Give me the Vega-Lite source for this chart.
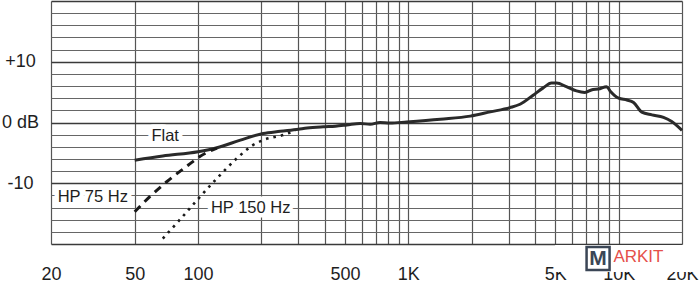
{
  "$schema": "https://vega.github.io/schema/vega-lite/v6.json",
  "width": 631,
  "height": 243,
  "autosize": {"type": "none"},
  "padding": {"left": 51, "top": 1, "right": 18, "bottom": 37},
  "background": "white",
  "config": {"view": {"stroke": null}, "font": "Liberation Sans"},
  "datasets": {
    "curves": [
      {"series": "Flat", "f": 50, "db": -6.2},
      {"series": "Flat", "f": 68, "db": -5.5},
      {"series": "Flat", "f": 100, "db": -4.8},
      {"series": "Flat", "f": 123, "db": -4.15},
      {"series": "Flat", "f": 159, "db": -2.9},
      {"series": "Flat", "f": 204, "db": -1.8},
      {"series": "Flat", "f": 246, "db": -1.45},
      {"series": "Flat", "f": 300, "db": -1.1},
      {"series": "Flat", "f": 330, "db": -0.9},
      {"series": "Flat", "f": 394, "db": -0.7},
      {"series": "Flat", "f": 450, "db": -0.6},
      {"series": "Flat", "f": 510, "db": -0.4},
      {"series": "Flat", "f": 590, "db": -0.15},
      {"series": "Flat", "f": 658, "db": -0.3},
      {"series": "Flat", "f": 733, "db": 0.0},
      {"series": "Flat", "f": 818, "db": -0.1},
      {"series": "Flat", "f": 982, "db": 0.1},
      {"series": "Flat", "f": 1418, "db": 0.55},
      {"series": "Flat", "f": 1970, "db": 1.05},
      {"series": "Flat", "f": 2452, "db": 1.75},
      {"series": "Flat", "f": 3040, "db": 2.45},
      {"series": "Flat", "f": 3396, "db": 3.0},
      {"series": "Flat", "f": 3920, "db": 4.5},
      {"series": "Flat", "f": 4376, "db": 5.7},
      {"series": "Flat", "f": 4792, "db": 6.5},
      {"series": "Flat", "f": 5069, "db": 6.5},
      {"series": "Flat", "f": 5640, "db": 5.9},
      {"series": "Flat", "f": 6300, "db": 5.2},
      {"series": "Flat", "f": 6900, "db": 4.95},
      {"series": "Flat", "f": 7550, "db": 5.45},
      {"series": "Flat", "f": 8000, "db": 5.5},
      {"series": "Flat", "f": 8760, "db": 5.9},
      {"series": "Flat", "f": 9100, "db": 5.2},
      {"series": "Flat", "f": 10000, "db": 4.0},
      {"series": "Flat", "f": 10940, "db": 3.7},
      {"series": "Flat", "f": 11770, "db": 3.3},
      {"series": "Flat", "f": 12880, "db": 1.7},
      {"series": "Flat", "f": 14380, "db": 1.25},
      {"series": "Flat", "f": 16330, "db": 0.85},
      {"series": "Flat", "f": 17870, "db": 0.15},
      {"series": "Flat", "f": 20000, "db": -1.3},
      {"series": "HP 75 Hz", "f": 50, "db": -14.7},
      {"series": "HP 75 Hz", "f": 59, "db": -12.2},
      {"series": "HP 75 Hz", "f": 71, "db": -9.75},
      {"series": "HP 75 Hz", "f": 90, "db": -7.0},
      {"series": "HP 75 Hz", "f": 102, "db": -5.6},
      {"series": "HP 75 Hz", "f": 123, "db": -4.2},
      {"series": "HP 150 Hz", "f": 68, "db": -19.1},
      {"series": "HP 150 Hz", "f": 82, "db": -16.0},
      {"series": "HP 150 Hz", "f": 100, "db": -12.6},
      {"series": "HP 150 Hz", "f": 123, "db": -9.2},
      {"series": "HP 150 Hz", "f": 153, "db": -5.9},
      {"series": "HP 150 Hz", "f": 183, "db": -3.7},
      {"series": "HP 150 Hz", "f": 204, "db": -2.9},
      {"series": "HP 150 Hz", "f": 254, "db": -2.05},
      {"series": "HP 150 Hz", "f": 290, "db": -1.35}
    ],
    "labels": [
      {"text": "Flat", "f": 69.8, "db": -2.3},
      {"text": "HP 75 Hz", "f": 31.6, "db": -12.3},
      {"text": "HP 150 Hz", "f": 178, "db": -14.0}
    ],
    "watermark": [
      {"text": "M", "f": 7980, "db": -22.4},
      {"text": "ARKIT", "f": 9436, "db": -22.2}
    ],
    "wmbox": [
      {"f": 4984, "db": -22.4}
    ]
  },
  "encoding": {
    "x": {
      "field": "f",
      "type": "quantitative",
      "scale": {"type": "log", "domain": [20, 20000], "nice": false},
      "axis": {
        "title": null,
        "zindex": 0,
        "values": [20, 50, 100, 200, 300, 400, 500, 600, 700, 800, 900, 1000, 2000, 3000, 4000, 5000, 6000, 7000, 8000, 9000, 10000, 20000],
        "labelExpr": "datum.value==20?'20':datum.value==50?'50':datum.value==100?'100':datum.value==500?'500':datum.value==1000?'1K':datum.value==5000?'5K':datum.value==10000?'10K':datum.value==20000?'20K':''",
        "grid": true,
        "gridColor": "#555555",
        "gridWidth": 1.2,
        "ticks": false,
        "tickSize": 0,
        "domain": false,
        "labelFontSize": 18,
        "labelColor": "#1e1e1e",
        "labelBaseline": "alphabetic",
        "labelPadding": 35,
        "labelFlush": false,
        "labelOverlap": false,
        "labelBound": false
      }
    },
    "y": {
      "field": "db",
      "type": "quantitative",
      "scale": {"domain": [-20, 20], "nice": false},
      "axis": {
        "title": null,
        "zindex": 0,
        "values": [-20, -18, -16, -14, -12, -10, -8, -6, -4, -2, 0, 2, 4, 6, 8, 10, 12, 14, 16, 18, 20],
        "labelExpr": "datum.value==10?'+10':datum.value==0?'0 dB':datum.value==-10?'-10':''",
        "grid": true,
        "gridColor": {"condition": {"test": "datum.value % 10 === 0", "value": "#3a3a3a"}, "value": "#666666"},
        "gridWidth": {"condition": {"test": "datum.value % 10 === 0", "value": 1.6}, "value": 1.1},
        "ticks": false,
        "tickSize": 0,
        "domain": false,
        "labelFontSize": 18,
        "labelColor": "#1e1e1e",
        "labelAlign": "center",
        "labelBaseline": "middle",
        "labelPadding": 31,
        "labelOverlap": false,
        "labelBound": false
      }
    }
  },
  "layer": [
    {
      "data": {"name": "curves"},
      "transform": [{"filter": "datum.series == 'Flat'"}],
      "mark": {"type": "line", "color": "#2a2a2a", "strokeWidth": 3, "interpolate": "monotone"}
    },
    {
      "data": {"name": "curves"},
      "transform": [{"filter": "datum.series == 'HP 75 Hz'"}],
      "mark": {"type": "line", "color": "#1a1a1a", "strokeWidth": 3, "strokeDash": [8, 6], "interpolate": "monotone"}
    },
    {
      "data": {"name": "curves"},
      "transform": [{"filter": "datum.series == 'HP 150 Hz'"}],
      "mark": {"type": "line", "color": "#1a1a1a", "strokeWidth": 2.6, "strokeDash": [2.6, 5], "interpolate": "monotone"}
    },
    {
      "data": {"name": "labels"},
      "mark": {"type": "text", "fontSize": 16.5, "align": "center", "baseline": "middle", "fill": "white", "stroke": "white", "strokeWidth": 9, "strokeJoin": "round"},
      "encoding": {"text": {"field": "text"}}
    },
    {
      "data": {"name": "labels"},
      "mark": {"type": "text", "fontSize": 16.5, "align": "center", "baseline": "middle", "color": "#1e1e1e"},
      "encoding": {"text": {"field": "text"}}
    },
    {
      "data": {"name": "wmbox"},
      "mark": {"type": "point", "shape": "M0,-1H10.7V1H0Z", "size": 729, "filled": true, "fill": "white", "opacity": 1, "strokeWidth": 0}
    },
    {
      "data": {"name": "watermark"},
      "transform": [{"filter": "datum.text == 'M'"}],
      "mark": {"type": "point", "shape": "square", "size": 529, "filled": false, "stroke": "#3b4656", "strokeWidth": 2.5, "opacity": 1}
    },
    {
      "data": {"name": "watermark"},
      "transform": [{"filter": "datum.text == 'M'"}],
      "mark": {"type": "text", "fontSize": 21, "fontWeight": "bold", "align": "center", "baseline": "middle", "color": "#3b4656"},
      "encoding": {"text": {"field": "text"}}
    },
    {
      "data": {"name": "watermark"},
      "transform": [{"filter": "datum.text == 'ARKIT'"}],
      "mark": {"type": "text", "fontSize": 17, "align": "left", "baseline": "middle", "color": "#e5504a"},
      "encoding": {"text": {"field": "text"}}
    }
  ]
}
